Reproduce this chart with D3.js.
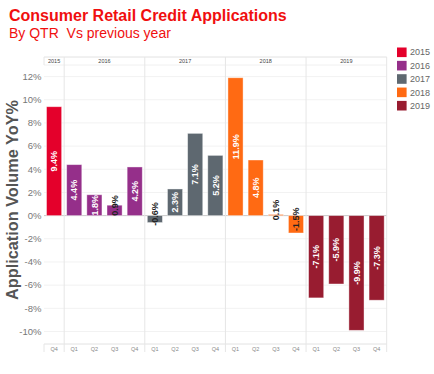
<!DOCTYPE html>
<html>
<head>
<meta charset="utf-8">
<title>Consumer Retail Credit Applications</title>
<script src="https://d3js.org/d3.v7.min.js"></script>
<style>
  body { margin: 0; background: #fff; }
  svg { font-family: "Liberation Sans", Arial, sans-serif; }
</style>
</head>
<body>
<svg id="chart" width="434" height="374"></svg>
<script>
// data
var years = ["2015", "2016", "2017", "2018", "2019"];
var quarters = ["Q4", "Q1", "Q2", "Q3", "Q4", "Q1", "Q2", "Q3", "Q4",
                "Q1", "Q2", "Q3", "Q4", "Q1", "Q2", "Q3", "Q4"];
var quarterYears = ["2015", "2016", "2016", "2016", "2016", "2017", "2017", "2017", "2017",
                    "2018", "2018", "2018", "2018", "2019", "2019", "2019", "2019"];
var yoy = [9.4, 4.4, 1.8, 0.9, 4.2, -0.6, 2.3, 7.1, 5.2, 11.9, 4.8, 0.1, -1.5, -7.1, -5.9, -9.9, -7.3];
var yTicks = [-10, -8, -6, -4, -2, 0, 2, 4, 6, 8, 10, 12];
var colors = ["#e4002b", "#952f8a", "#5e6870", "#ff6a13", "#981c30"];

var data = yoy.map(function(v, i) {
  return { key: quarterYears[i] + "-" + quarters[i] + "-" + i, q: quarters[i], year: quarterYears[i], value: v };
});

var svg = d3.select("#chart");

var left = 44, right = 386.7, headTop = 57, plotTop = 65, plotBottom = 344;

var x = d3.scaleBand()
  .domain(data.map(function(d) { return d.key; }))
  .range([left, right])
  .paddingInner(0.25)
  .paddingOuter(0.125);

var y = d3.scaleLinear()
  .domain([-11.08, 13])
  .range([plotBottom, plotTop]);

var color = d3.scaleOrdinal().domain(years).range(colors);
var step = x.step();

// titles
svg.append("text")
  .attr("x", 9).attr("y", 21)
  .attr("fill", "#f00f0f")
  .style("font-size", "16px").style("font-weight", "bold")
  .text("Consumer Retail Credit Applications");
svg.append("text")
  .attr("x", 9).attr("y", 38)
  .attr("fill", "#f00f0f")
  .style("font-size", "14px")
  .style("white-space", "pre")
  .text("By QTR  Vs previous year");

// gridlines
svg.append("g").selectAll("line")
  .data(yTicks)
  .enter().append("line")
  .attr("x1", left).attr("x2", right)
  .attr("y1", function(d) { return y(d); })
  .attr("y2", function(d) { return y(d); })
  .attr("stroke", function(d) { return d === 0 ? "#c8c8c8" : "#f2f2f2"; })
  .attr("stroke-width", 1);

// header / footer borders
[headTop, plotTop, plotBottom].forEach(function(yy) {
  svg.append("line")
    .attr("x1", left).attr("x2", right)
    .attr("y1", yy).attr("y2", yy)
    .attr("stroke", yy === plotTop ? "#f0f0f0" : "#e2e2e2");
});

// year separators
var yearStart = years.map(function(yr) { return quarterYears.indexOf(yr); });
var yearEnd = years.map(function(yr) { return quarterYears.lastIndexOf(yr) + 1; });
svg.append("g").selectAll("line")
  .data(yearEnd)
  .enter().append("line")
  .attr("x1", function(d) { return left + d * step; })
  .attr("x2", function(d) { return left + d * step; })
  .attr("y1", headTop).attr("y2", 352)
  .attr("stroke", "#e6e6e6");
[[headTop, plotTop], [plotBottom, 352]].forEach(function(r) {
  svg.append("line")
    .attr("x1", left).attr("x2", left)
    .attr("y1", r[0]).attr("y2", r[1])
    .attr("stroke", "#e6e6e6");
});

// year header labels
svg.append("g").selectAll("text")
  .data(years)
  .enter().append("text")
  .attr("x", function(d, i) { return left + (yearStart[i] + yearEnd[i]) / 2 * step; })
  .attr("y", 63.2)
  .attr("text-anchor", "middle")
  .attr("fill", "#444")
  .style("font-size", "5.5px")
  .text(function(d) { return d; });

// y tick labels
svg.append("g").selectAll("text")
  .data(yTicks)
  .enter().append("text")
  .attr("x", 41.5)
  .attr("y", function(d) { return y(d); })
  .attr("dy", "0.35em")
  .attr("text-anchor", "end")
  .attr("fill", "#777")
  .style("font-size", "9.5px")
  .text(function(d) { return d + "%"; });

// quarter labels
svg.append("g").selectAll("text")
  .data(data)
  .enter().append("text")
  .attr("x", function(d) { return x(d.key) + x.bandwidth() / 2; })
  .attr("y", 350.5)
  .attr("text-anchor", "middle")
  .attr("fill", "#888")
  .style("font-size", "5.5px")
  .text(function(d) { return d.q; });

// y axis title
svg.append("text")
  .attr("transform", "translate(18,200) rotate(-90)")
  .attr("text-anchor", "middle")
  .attr("fill", "#555")
  .style("font-size", "16.3px").style("font-weight", "bold")
  .text("Application Volume YoY%");

// bars
svg.append("g").selectAll("rect")
  .data(data)
  .enter().append("rect")
  .attr("x", function(d) { return x(d.key); })
  .attr("y", function(d) { return y(Math.max(0, d.value)); })
  .attr("width", x.bandwidth())
  .attr("height", function(d) { return Math.abs(y(d.value) - y(0)); })
  .attr("fill", function(d) { return color(d.year); })
  .attr("stroke", "#fff")
  .attr("stroke-opacity", 0.5)
  .attr("stroke-width", 0.8);

// bar labels
svg.append("g").selectAll("text")
  .data(data)
  .enter().append("text")
  .attr("transform", function(d) {
    var cx = x(d.key) + x.bandwidth() / 2;
    var cy = (y(d.value) + y(0)) / 2;
    if (Math.abs(d.value) < 1.6) cy -= 5;
    return "translate(" + cx + "," + cy + ") rotate(-90)";
  })
  .attr("text-anchor", "middle")
  .attr("dy", "0.35em")
  .attr("fill", function(d) { return Math.abs(d.value) < 1.6 ? "#222" : "#fff"; })
  .style("font-size", "9px").style("font-weight", "bold")
  .text(function(d) { return d.value.toFixed(1) + "%"; });

// legend
var legend = svg.append("g").selectAll("g")
  .data(years)
  .enter().append("g")
  .attr("transform", function(d, i) { return "translate(397," + (52.3 + i * 13.35) + ")"; });
legend.append("rect")
  .attr("x", 0).attr("y", -4.8)
  .attr("width", 9.6).attr("height", 9.6)
  .attr("fill", function(d) { return color(d); });
legend.append("text")
  .attr("x", 13).attr("dy", "0.35em")
  .attr("fill", "#666")
  .style("font-size", "9px")
  .text(function(d) { return d; });
</script>
</body>
</html>
